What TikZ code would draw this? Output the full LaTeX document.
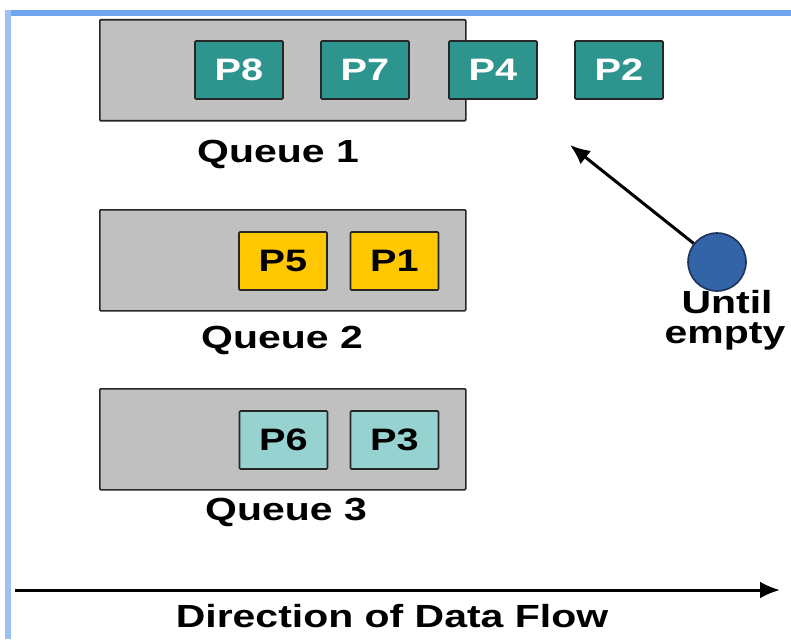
\documentclass[tikz,border=0pt]{standalone}
\usepackage{fontspec}
\setmainfont{Liberation Sans}
\usetikzlibrary{arrows.meta}
\definecolor{frameblue}{RGB}{112,166,240}
\definecolor{queuegray}{RGB}{192,192,192}
\definecolor{tealdark}{RGB}{46,148,142}
\definecolor{procgold}{RGB}{255,200,0}
\definecolor{tealpale}{RGB}{150,210,208}
\definecolor{dotblue}{RGB}{52,100,168}
\definecolor{dotedge}{RGB}{30,50,90}
\newcommand\widetext[1]{\scalebox{1.28}[1]{#1}}
\begin{document}
\begin{tikzpicture}[x=1pt,y=-1pt,
  queue/.style={draw=black!85, line width=1.6pt, fill=queuegray,
    minimum width=366pt, minimum height=101pt, inner sep=0pt,
    anchor=north west, rounded corners=1pt},
  proc/.style={draw=black!85, line width=1.6pt, minimum width=88pt,
    minimum height=58pt, inner sep=0pt, rounded corners=1pt,
    font=\fontsize{31}{36}\selectfont\bfseries},
  qlabel/.style={font=\fontsize{32}{36}\selectfont\bfseries,
    inner sep=0pt, anchor=base},
  arrowline/.style={line width=3pt, -{Latex[length=20pt,width=17pt]}}
]
\useasboundingbox (0,0) rectangle (791,639);
\fill[white] (0,0) rectangle (791,639);

% window frame edges
\fill[frameblue] (5,10) rectangle (791,16);
\fill[frameblue!70] (5,10) rectangle (11,639);

% Queue 1
\node[queue] (queue1) at (99,19) {};
\node[proc, fill=tealdark, text=white] (p8) at (239,70) {\widetext{P8}};
\node[proc, fill=tealdark, text=white] (p7) at (365,70) {\widetext{P7}};
\node[proc, fill=tealdark, text=white] (p4) at (493,70) {\widetext{P4}};
\node[proc, fill=tealdark, text=white] (p2) at (619,70) {\widetext{P2}};
\node[qlabel] (q1lab) at (278,162) {\widetext{Queue 1}};

% Queue 2
\node[queue] (queue2) at (99,209) {};
\node[proc, fill=procgold] (p5) at (283,261) {\widetext{P5}};
\node[proc, fill=procgold] (p1) at (394.5,261) {\widetext{P1}};
\node[qlabel] (q2lab) at (282,348) {\widetext{Queue 2}};

% Queue 3
\node[queue] (queue3) at (99,388) {};
\node[proc, fill=tealpale] (p6) at (283.5,440) {\widetext{P6}};
\node[proc, fill=tealpale] (p3) at (394.5,440) {\widetext{P3}};
\node[qlabel] (q3lab) at (286,520) {\widetext{Queue 3}};

% scheduler dot and its arrow
\node[circle, draw=dotedge, line width=1.6pt, fill=dotblue,
  minimum size=58pt, inner sep=0pt] (dot) at (717,262) {};
\coordinate (target) at (570,145);
\draw[arrowline] (dot) -- (target);
\node[qlabel] (until) at (727,313) {\widetext{Until}};
\node[qlabel] (empty) at (725,343) {\widetext{empty}};

% data flow direction
\coordinate (flowstart) at (15,590);
\coordinate (flowend) at (780,590);
\draw[arrowline] (flowstart) -- (flowend);
\node[qlabel] (flowlab) at (392,627) {\widetext{Direction of Data Flow}};
\end{tikzpicture}
\end{document}
